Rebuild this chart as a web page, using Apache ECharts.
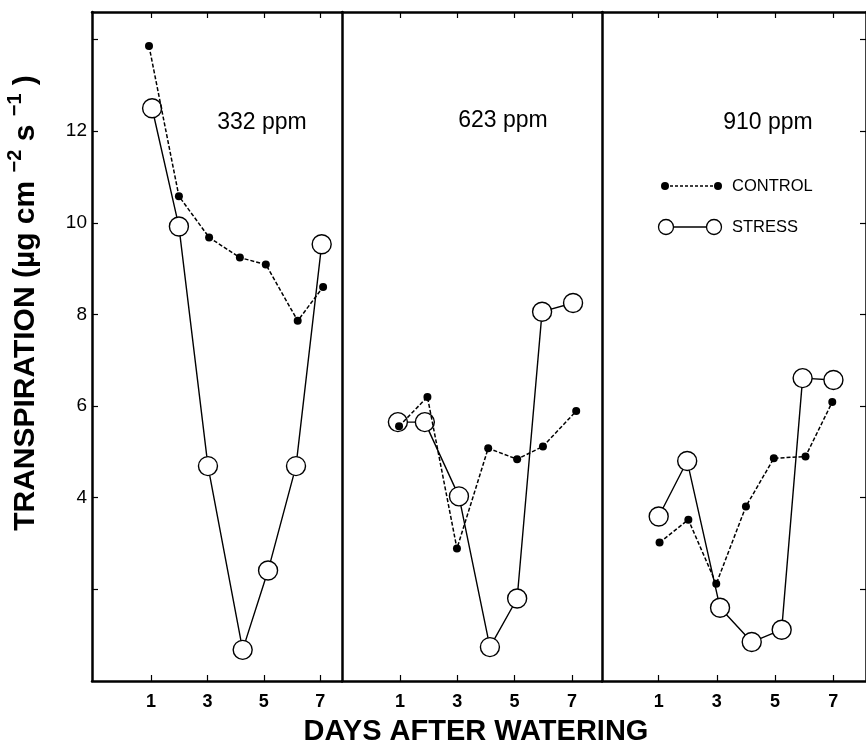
<!DOCTYPE html>
<html>
<head>
<meta charset="utf-8">
<script src="https://cdn.jsdelivr.net/npm/echarts@6/dist/echarts.min.js"></script>
<style>
  html, body { margin: 0; padding: 0; background: #fff; }
  #chart { width: 866px; height: 748px; }
</style>
</head>
<body>
<div id="chart"></div>
<script>
  // day positions (points sit slightly off the whole days)
  const panelNames = ['332 ppm', '623 ppm', '910 ppm'];

  const ctrlDays332 = [0.93, 1.99, 3.06, 4.15, 5.07, 6.2, 7.1];
  const ctrlVals332 = [13.86, 10.58, 9.68, 9.24, 9.09, 7.86, 8.6];
  const strsDays332 = [1.04, 1.99, 3.02, 4.25, 5.15, 6.14, 7.05];
  const strsVals332 = [12.5, 9.92, 4.69, 0.68, 2.41, 4.69, 9.53];

  const ctrlDays623 = [0.97, 1.96, 2.99, 4.08, 5.09, 5.99, 7.15];
  const ctrlVals623 = [5.56, 6.2, 2.89, 5.08, 4.84, 5.12, 5.89];
  const strsDays623 = [0.93, 1.87, 3.06, 4.14, 5.09, 5.96, 7.04];
  const strsVals623 = [5.65, 5.65, 4.03, 0.74, 1.8, 8.06, 8.25];

  const ctrlDays910 = [1.03, 2.02, 2.98, 4.0, 4.96, 6.05, 6.97];
  const ctrlVals910 = [3.02, 3.52, 2.12, 3.81, 4.86, 4.9, 6.09];
  const strsDays910 = [1.0, 1.98, 3.11, 4.2, 5.23, 5.95, 7.01];
  const strsVals910 = [3.59, 4.8, 1.6, 0.85, 1.12, 6.61, 6.57];

  const xTicks = [1, 3, 5, 7];
  const yTicks = [2, 4, 6, 8, 10, 12, 14];
  const yLabels = [4, 6, 8, 10, 12];

  const font = '"Liberation Sans", Arial, Helvetica, sans-serif';

  function pairs(days, vals) {
    return days.map((d, i) => [d, vals[i]]);
  }

  const grids = [
    {left: 92, top: 12, width: 250, bottom: 67},
    {left: 342, top: 12, width: 260, bottom: 67},
    {left: 602, top: 12, width: 266, bottom: 67}
  ];
  const xRanges = [[-1.09, 7.77], [-1.02, 8.05], [-0.95, 8.13]];

  let xAxes = [];
  grids.forEach((g, i) => {
    // bottom axis with labels
    xAxes.push({
      type: 'value', gridIndex: i, position: 'bottom',
      min: xRanges[i][0], max: xRanges[i][1],
      axisLine: {show: true, onZero: false, lineStyle: {color: '#000', width: 2.5}},
      axisTick: {show: true, inside: true, length: 6, customValues: xTicks, lineStyle: {color: '#000', width: 1.2}},
      axisLabel: {show: true, customValues: xTicks, margin: 12, color: '#000', fontSize: 18, fontWeight: 'bold', fontFamily: font},
      splitLine: {show: false}
    });
    // top axis, ticks only
    xAxes.push({
      type: 'value', gridIndex: i, position: 'top',
      min: xRanges[i][0], max: xRanges[i][1],
      axisLine: {show: true, onZero: false, lineStyle: {color: '#000', width: 2.5}},
      axisTick: {show: true, inside: true, length: 6, customValues: xTicks, lineStyle: {color: '#000', width: 1.2}},
      axisLabel: {show: false},
      splitLine: {show: false}
    });
  });

  const yBase = {
    type: 'value', min: 0, max: 14.6,
    splitLine: {show: false},
    axisLine: {show: true, onZero: false, lineStyle: {color: '#000', width: 2.5}}
  };
  let yAxes = [
    Object.assign({}, yBase, {
      gridIndex: 0, position: 'left',
      axisTick: {show: true, inside: true, length: 6, customValues: yTicks, lineStyle: {color: '#000', width: 1.2}},
      axisLabel: {show: true, customValues: yLabels, margin: 5, color: '#000', fontSize: 19, fontFamily: font}
    }),
    Object.assign({}, yBase, {gridIndex: 1, position: 'left', axisTick: {show: false}, axisLabel: {show: false}}),
    Object.assign({}, yBase, {gridIndex: 2, position: 'left', axisTick: {show: false}, axisLabel: {show: false}}),
    Object.assign({}, yBase, {
      gridIndex: 2, position: 'right',
      axisTick: {show: true, inside: true, length: 6, customValues: yTicks, lineStyle: {color: '#000', width: 1.2}},
      axisLabel: {show: false}
    })
  ];

  const stressData = [pairs(strsDays332, strsVals332), pairs(strsDays623, strsVals623), pairs(strsDays910, strsVals910)];
  const controlData = [pairs(ctrlDays332, ctrlVals332), pairs(ctrlDays623, ctrlVals623), pairs(ctrlDays910, ctrlVals910)];

  let series = [];
  for (let i = 0; i < 3; i++) {
    series.push({
      name: 'STRESS', type: 'line', xAxisIndex: i * 2, yAxisIndex: i,
      data: stressData[i],
      symbol: 'circle', symbolSize: 19,
      itemStyle: {color: '#fff', borderColor: '#000', borderWidth: 1.4},
      lineStyle: {color: '#000', width: 1.4},
      z: 3
    });
    series.push({
      name: 'CONTROL', type: 'line', xAxisIndex: i * 2, yAxisIndex: i,
      data: controlData[i],
      symbol: 'circle', symbolSize: 8,
      itemStyle: {color: '#000'},
      lineStyle: {color: '#000', width: 1.5, type: [4, 2]},
      z: 4
    });
  }

  const panelTextPos = [[262, 123], [503, 121], [768, 123]];
  let graphics = panelNames.map((t, i) => ({
    type: 'text', x: panelTextPos[i][0], y: panelTextPos[i][1],
    style: {text: t, font: '23px ' + font, fill: '#000', align: 'center', verticalAlign: 'middle'}
  }));

  // legend
  graphics.push(
    {type: 'line', shape: {x1: 665, y1: 186, x2: 718, y2: 186}, style: {stroke: '#000', lineWidth: 1.3, lineDash: [3, 2]}},
    {type: 'circle', shape: {cx: 665, cy: 186, r: 4}, style: {fill: '#000'}},
    {type: 'circle', shape: {cx: 718, cy: 186, r: 4}, style: {fill: '#000'}},
    {type: 'text', x: 732, y: 186, style: {text: 'CONTROL', font: '16.5px ' + font, fill: '#000', verticalAlign: 'middle'}},
    {type: 'line', shape: {x1: 666, y1: 227, x2: 714, y2: 227}, style: {stroke: '#000', lineWidth: 1.3}},
    {type: 'circle', shape: {cx: 666, cy: 227, r: 7.5}, style: {fill: '#fff', stroke: '#000', lineWidth: 1.3}},
    {type: 'circle', shape: {cx: 714, cy: 227, r: 7.5}, style: {fill: '#fff', stroke: '#000', lineWidth: 1.3}},
    {type: 'text', x: 732, y: 227, style: {text: 'STRESS', font: '16.5px ' + font, fill: '#000', verticalAlign: 'middle'}}
  );

  // axis titles
  graphics.push(
    {type: 'text', x: 23, y: 303, rotation: Math.PI / 2,
      style: {
        text: '{b|TRANSPIRATION (µg cm }{s|−2}{b| s }{s|−1}{b| )}',
        align: 'center', verticalAlign: 'middle',
        rich: {
          b: {font: 'bold 30px ' + font, fill: '#000', lineHeight: 36, verticalAlign: 'bottom'},
          s: {font: 'bold 20px ' + font, fill: '#000', lineHeight: 36, verticalAlign: 'top'}
        }
      }},
    {type: 'text', x: 476, y: 732,
      style: {text: 'DAYS AFTER WATERING', font: 'bold 29px ' + font, fill: '#000', align: 'center', verticalAlign: 'middle'}}
  );

  let chart = echarts.init(document.getElementById('chart'));
  chart.setOption({
    animation: false,
    backgroundColor: '#fff',
    grid: grids.map(g => Object.assign({show: false}, g)),
    xAxis: xAxes,
    yAxis: yAxes,
    series: series,
    graphic: graphics
  });
</script>
</body>
</html>
